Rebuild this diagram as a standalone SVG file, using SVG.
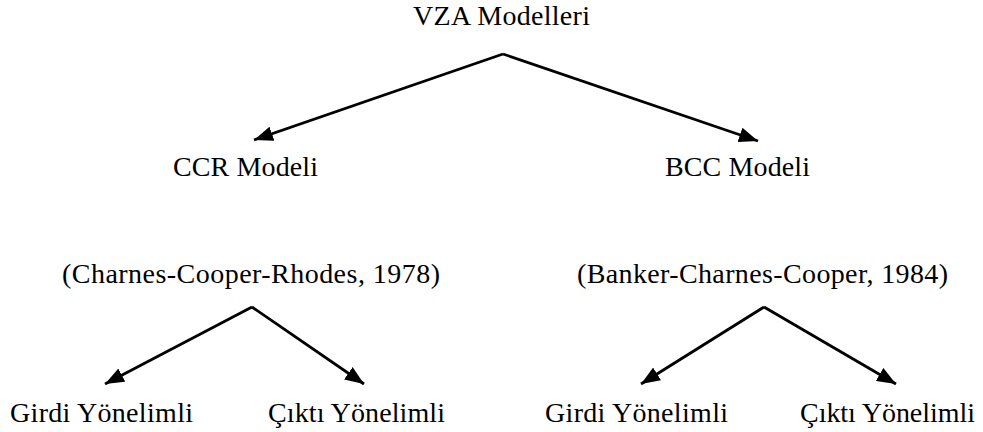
<svg xmlns="http://www.w3.org/2000/svg" width="983" height="432" viewBox="0 0 983 432">
<defs>
<marker id="ah" markerUnits="userSpaceOnUse" markerWidth="20" markerHeight="15" refX="19" refY="7.5" orient="auto">
<path d="M0,0 L19,7.5 L0,15 z" fill="#000"/>
</marker>
<style>
.t{font-size:28px;fill:#000;text-anchor:middle}
.c{fill:none;stroke:#000;stroke-width:2.8;marker-end:url(#ah)}
</style>
</defs>
<rect width="983" height="432" fill="#fff"/>
<g id="connectors">
<path class="c" d="M503,54 L254,140"/>
<path class="c" d="M503,54 L758,141"/>
<path class="c" d="M252,307 L105,384"/>
<path class="c" d="M252,307 L364,384"/>
<path class="c" d="M764,307 L641,384"/>
<path class="c" d="M764,307 L896,384"/>
</g>
<g font-family="Liberation Serif, Times New Roman, serif">
<g id="vza"><text class="t" x="501.5" y="25" textLength="177" lengthAdjust="spacing">VZA Modelleri</text></g>
<g id="ccr"><text class="t" x="245.5" y="176" textLength="145" lengthAdjust="spacing">CCR Modeli</text></g>
<g id="bcc"><text class="t" x="737.5" y="176" textLength="145" lengthAdjust="spacing">BCC Modeli</text></g>
<g id="ccr-ref"><text class="t" x="251" y="283" textLength="378" lengthAdjust="spacing">(Charnes-Cooper-Rhodes, 1978)</text></g>
<g id="bcc-ref"><text class="t" x="762.5" y="283" textLength="371" lengthAdjust="spacing">(Banker-Charnes-Cooper, 1984)</text></g>
<g id="ccr-girdi"><text class="t" x="101.5" y="422" textLength="183" lengthAdjust="spacing">Girdi Yönelimli</text></g>
<g id="ccr-cikti"><text class="t" x="356.5" y="422" textLength="177" lengthAdjust="spacing">Çıktı Yönelimli</text></g>
<g id="bcc-girdi"><text class="t" x="636.5" y="422" textLength="183" lengthAdjust="spacing">Girdi Yönelimli</text></g>
<g id="bcc-cikti"><text class="t" x="887.5" y="422" textLength="175" lengthAdjust="spacing">Çıktı Yönelimli</text></g>
</g>
</svg>
